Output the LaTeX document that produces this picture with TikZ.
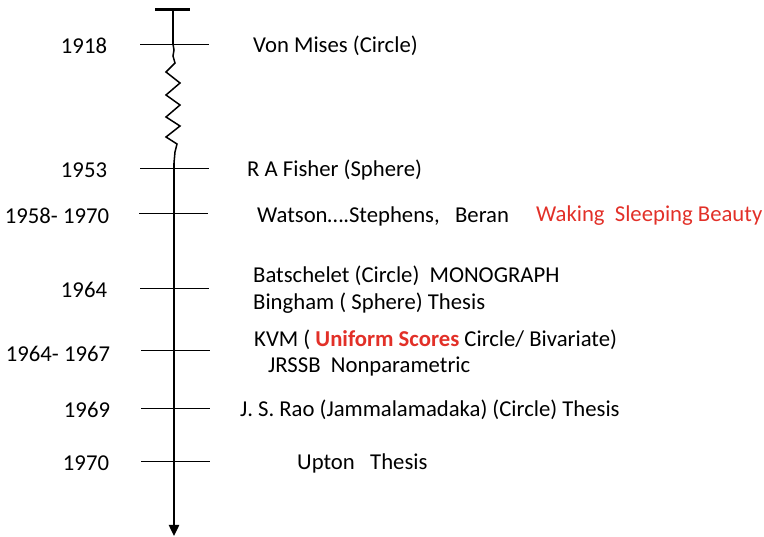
\documentclass[tikz,border=0pt]{standalone}
\usepackage{fontspec}
\setmainfont{Carlito}
\usetikzlibrary{arrows.meta}
\definecolor{hired}{RGB}{226,48,40}
\begin{document}
\begin{tikzpicture}[x=1pt,y=-1pt,
  yearlbl/.style={anchor=center,font=\fontsize{22.7}{27}\selectfont,inner sep=0pt},
  eventlbl/.style={anchor=west,font=\fontsize{22.7}{27}\selectfont,inner sep=0pt},
  tickline/.style={line width=0.9pt},
  axisline/.style={line width=2.4pt},
  wiggle/.style={line width=1.5pt,line join=miter}]
\useasboundingbox (0,0) rectangle (764,537);

% top bar of the time axis
\coordinate (bl) at (155,10);
\coordinate (br) at (190,10);
\coordinate (top) at (173,10);
\coordinate (brk1) at (173,44);
\coordinate (brk2) at (174,163);
\coordinate (end) at (174,536);
\draw[line width=3pt] (bl) -- (br);
\draw[axisline] (top) -- (brk1);

% broken stretch between 1918 and 1953
\draw[wiggle] (brk1) -- (174,50) -- (173,56) -- (175,63) -- (166,72) -- (180,83)
  -- (166,95) -- (180,105) -- (166,117) -- (180,126) -- (166,137) -- (177,144)
  -- (175,152) -- (brk2);

% main axis with arrow
\draw[axisline,-{Triangle[length=11pt,width=10pt]}] (brk2) -- (end);

% ticks
\foreach \n/\y/\xa/\xb in {t1/44/140/209, t2/168/140/209, t3/213/139/208,
   t4/288/140/209, t5/350/141/210, t6/408/141/210, t7/461/141/210}{
  \coordinate (\n a) at (\xa,\y);
  \coordinate (\n b) at (\xb,\y);
  \draw[tickline] (\n a) -- (\n b);
}

% years
\node[yearlbl] (y1) at (84,46) {1918};
\node[yearlbl] (y2) at (84,170) {1953};
\node[yearlbl] (y3) at (57,216) {1958- 1970};
\node[yearlbl] (y4) at (84,290) {1964};
\node[yearlbl] (y5) at (58,354) {1964- 1967};
\node[yearlbl] (y6) at (87,410) {1969};
\node[yearlbl] (y7) at (86,463) {1970};

% events
\node[eventlbl] (e1) at (253,46) {Von Mises (Circle)};
\node[eventlbl] (e2) at (247,170) {R A Fisher (Sphere)};
\node[eventlbl] (e3) at (257,216) {Watson….Stephens,\ \ \ Beran};
\node[eventlbl,text=hired] (e3b) at (536,216) {Waking\ \ Sleeping Beauty};
\node[eventlbl] (e4) at (253,276) {Batschelet (Circle)\ \ MONOGRAPH};
\node[eventlbl] (e5) at (253,303) {Bingham ( Sphere) Thesis};
\node[eventlbl] (e6) at (254,340) {KVM ( \textbf{\textcolor{hired}{Uniform Scores}} Circle/ Bivariate)};
\node[eventlbl] (e7) at (268,367) {JRSSB\ \ Nonparametric};
\node[eventlbl] (e8) at (240,410) {J. S. Rao (Jammalamadaka) (Circle) Thesis};
\node[eventlbl] (e9) at (297,463) {Upton\ \ \ Thesis};
\end{tikzpicture}
\end{document}
